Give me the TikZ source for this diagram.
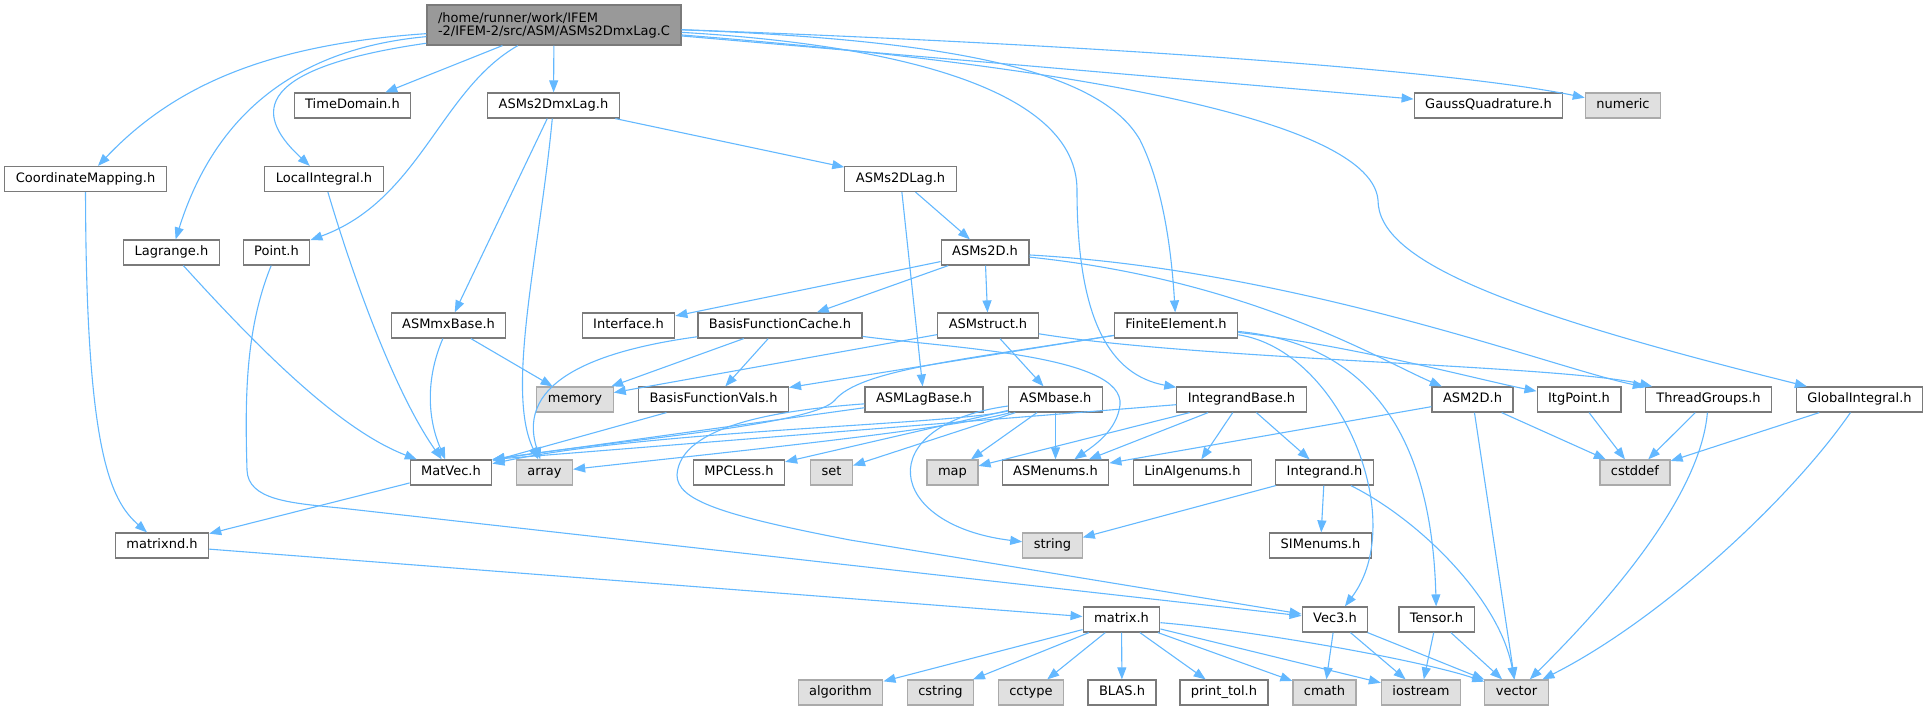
\documentclass[tikz,border=0pt]{standalone}
\usepackage{fontspec}
\setmainfont{DejaVu Sans}
\usepackage{tikz}
\usetikzlibrary{arrows.meta}
\definecolor{depblue}{HTML}{63B8FF}
\definecolor{hdrline}{HTML}{7A7A7A}
\definecolor{sysfill}{HTML}{E0E0E0}
\definecolor{sysline}{HTML}{AAAAAA}
\definecolor{rootfill}{HTML}{999999}

\begin{document}
\begin{tikzpicture}[x=1pt,y=-1pt,
    hdr/.style={draw=hdrline,fill=white,line width=1.2pt,inner xsep=11pt,inner ysep=0pt,
      minimum height=25pt,text height=9.5pt,text depth=2.6pt,font=\fontsize{13}{15}\selectfont},
    sys/.style={hdr,draw=sysline,fill=sysfill},
    rootbox/.style={draw=hdrline,fill=rootfill,line width=1.2pt,inner xsep=11pt,inner ysep=3pt,
      minimum height=40pt,align=left,font=\fontsize{13}{13}\selectfont},
    dep/.style={color=depblue,line width=1.1pt,
      -{Triangle[length=12pt,width=9pt,color=depblue,fill=depblue]}}]
  \useasboundingbox (0,0) rectangle (1928,711);
  \node[rootbox] (Root) at (554,25) {/home/runner/work/IFEM\\-2/IFEM-2/src/ASM/ASMs2DmxLag.C};
  \node[hdr] (TimeDom) at (352.5,105.5) {TimeDomain.h};
  \node[hdr] (MxLag) at (553.5,105.5) {ASMs2DmxLag.h};
  \node[hdr] (Gauss) at (1488.5,105.5) {GaussQuadrature.h};
  \node[sys] (Num) at (1623,105.5) {numeric};
  \node[hdr] (CoordMap) at (85.5,179) {CoordinateMapping.h};
  \node[hdr] (LocInt) at (324,179) {LocalIntegral.h};
  \node[hdr] (S2DLag) at (900.5,179) {ASMs2DLag.h};
  \node[hdr] (Lagr) at (171.5,252.5) {Lagrange.h};
  \node[hdr] (Pt) at (276.5,252.5) {Point.h};
  \node[hdr] (S2D) at (985,252.5) {ASMs2D.h};
  \node[hdr] (MxBase) at (448.5,325.5) {ASMmxBase.h};
  \node[hdr] (Intf) at (628.5,325.5) {Interface.h};
  \node[hdr] (BFCache) at (780,325.5) {BasisFunctionCache.h};
  \node[hdr] (Struct) at (988,325.5) {ASMstruct.h};
  \node[hdr] (FE) at (1176,325.5) {FiniteElement.h};
  \node[sys] (Mem) at (575,399.5) {memory};
  \node[hdr] (BFVals) at (713.5,399.5) {BasisFunctionVals.h};
  \node[hdr] (LagBase) at (924,399.5) {ASMLagBase.h};
  \node[hdr] (Base) at (1055.5,399.5) {ASMbase.h};
  \node[hdr] (IntgBase) at (1241.5,399.5) {IntegrandBase.h};
  \node[hdr] (A2D) at (1472.5,399.5) {ASM2D.h};
  \node[hdr] (Itg) at (1579,399.5) {ItgPoint.h};
  \node[hdr] (Thr) at (1708.5,399.5) {ThreadGroups.h};
  \node[hdr] (GlobInt) at (1859.5,399.5) {GlobalIntegral.h};
  \node[hdr] (MatVec) at (451,472.5) {MatVec.h};
  \node[sys] (Arr) at (544.5,472.5) {array};
  \node[hdr] (MPC) at (739,472.5) {MPCLess.h};
  \node[sys] (Set) at (831.5,472.5) {set};
  \node[sys] (Map) at (952.5,472.5) {map};
  \node[hdr] (Enums) at (1055.5,472.5) {ASMenums.h};
  \node[hdr] (LinAlg) at (1192.5,472.5) {LinAlgenums.h};
  \node[hdr] (Intg) at (1324.5,472.5) {Integrand.h};
  \node[sys] (Cstddef) at (1635,472.5) {cstddef};
  \node[hdr] (MatND) at (162,545.5) {matrixnd.h};
  \node[sys] (Str) at (1052.5,545.5) {string};
  \node[hdr] (SIM) at (1320.5,545.5) {SIMenums.h};
  \node[hdr] (Mat) at (1121.5,619.5) {matrix.h};
  \node[hdr] (Vec3) at (1335,619.5) {Vec3.h};
  \node[hdr] (Tens) at (1436.5,619.5) {Tensor.h};
  \node[sys] (Alg) at (840.5,692.5) {algorithm};
  \node[sys] (Cstr) at (940.5,692.5) {cstring};
  \node[sys] (Cctype) at (1031,692.5) {cctype};
  \node[hdr] (BLAS) at (1122,692.5) {BLAS.h};
  \node[hdr] (PTol) at (1224,692.5) {print\_tol.h};
  \node[sys] (Cmath) at (1324.5,692.5) {cmath};
  \node[sys] (Ios) at (1421,692.5) {iostream};
  \node[sys] (Vect) at (1516.5,692.5) {vector};

  \draw[dep] (Root) .. controls (260,45) and (170,90) .. (CoordMap);
  \draw[dep] (Root) .. controls (280,50) and (210,130) .. (Lagr);
  \draw[dep] (Root) .. controls (240,70) and (260,120) .. (LocInt);
  \draw[dep] (Root) .. controls (440,90) and (420,200) .. (Pt);
  \draw[dep] (Root) .. controls (900,45) and (1077,90) .. (1077,190)
    .. controls (1077,320) and (1110,375) .. (IntgBase);
  \draw[dep] (Root) .. controls (950,40) and (1100,70) .. (1140,140)
    .. controls (1165,190) and (1172,260) .. (FE);
  \draw[dep] (Root) .. controls (1100,45) and (1450,70) .. (Num);
  \draw[dep] (Root) .. controls (1000,60) and (1370,110) .. (1378,200)
    .. controls (1378,260) and (1500,310) .. (GlobInt);
  \path[dep] (Root) edge (TimeDom) edge (MxLag) edge (Gauss);

  \path[dep] (MxLag) edge (S2DLag) edge (MxBase);
  \draw[dep] (MxLag) .. controls (540,250) and (505,390) .. (Arr);
  \path[dep] (S2DLag) edge (S2D) edge (LagBase);
  \path[dep] (S2D) edge (Intf) edge (BFCache) edge (Struct);
  \draw[dep] (S2D) .. controls (1250,280) and (1380,360) .. (A2D);
  \draw[dep] (S2D) .. controls (1300,270) and (1560,370) .. (Thr);

  \draw[dep] (CoordMap) .. controls (86,450) and (110,500) .. (MatND);
  \draw[dep] (Lagr) .. controls (260,350) and (340,430) .. (MatVec);
  \draw[dep] (LocInt) .. controls (360,300) and (400,400) .. (MatVec);
  \draw[dep] (Pt) .. controls (245,330) and (245,400) .. (247,470)
    .. controls (248,500) and (290,503) .. (340,508) -- (Vec3);
  \draw[dep] (MxBase) .. controls (425,380) and (428,420) .. (MatVec);
  \path[dep] (MxBase) edge (Mem);

  \path[dep] (BFCache) edge (Mem) edge (BFVals);
  \draw[dep] (BFCache) .. controls (600,350) and (515,380) .. (Arr);
  \draw[dep] (BFCache) .. controls (950,348) and (1125,355) .. (1120,405)
    .. controls (1117,430) and (1095,445) .. (Enums);
  \path[dep] (Struct) edge (Mem) edge (Base);
  \draw[dep] (Struct) .. controls (1200,360) and (1560,365) .. (Thr);
  \path[dep] (FE) edge (BFVals);
  \draw[dep] (FE) .. controls (960,360) and (860,370) .. (835,400)
    .. controls (815,425) and (620,440) .. (MatVec.north east);
  \draw[dep] (FE) .. controls (1340,350) and (1410,520) .. (Vec3);
  \draw[dep] (FE) .. controls (1380,345) and (1432,450) .. (Tens);
  \draw[dep] (FE) .. controls (1350,345) and (1480,380) .. (Itg);

  \path[dep] (BFVals) edge (MatVec);
  \path[dep] (LagBase) edge (MatVec.north east);
  \draw[dep] (LagBase) .. controls (780,410) and (680,425) .. (677,475)
    .. controls (677,500) and (720,515) .. (850,540) -- (Vec3);
  \draw[dep] (Base) .. controls (950,425) and (650,430) .. (MatVec);
  \draw[dep] (Base) .. controls (950,430) and (700,455) .. (Arr);
  \path[dep] (Base) edge (MPC) edge (Set) edge (Map) edge (Enums);
  \draw[dep] (Base) .. controls (870,425) and (885,525) .. (Str);
  \path[dep] (IntgBase) edge (MatVec.north east) edge (Map) edge (Enums) edge (LinAlg) edge (Intg);
  \path[dep] (A2D) edge (Enums) edge (Cstddef) edge (Vect);
  \path[dep] (Itg) edge (Cstddef);
  \path[dep] (Thr) edge (Cstddef);
  \draw[dep] (Thr) .. controls (1700,500) and (1600,610) .. (Vect);
  \path[dep] (GlobInt) edge (Cstddef);
  \draw[dep] (GlobInt) .. controls (1790,500) and (1660,620) .. (Vect);

  \path[dep] (MatVec) edge (MatND);
  \path[dep] (Intg) edge (Str) edge (SIM);
  \draw[dep] (Intg) .. controls (1420,520) and (1500,600) .. (Vect);
  \path[dep] (MatND) edge (Mat);
  \path[dep] (Mat) edge (Alg) edge (Cstr) edge (Cctype) edge (BLAS) edge (PTol) edge (Cmath) edge (Ios);
  \draw[dep] (Mat) .. controls (1250,630) and (1420,660) .. (Vect);
  \path[dep] (Vec3) edge (Cmath) edge (Ios) edge (Vect);
  \path[dep] (Tens) edge (Ios) edge (Vect);
\end{tikzpicture}
\end{document}
